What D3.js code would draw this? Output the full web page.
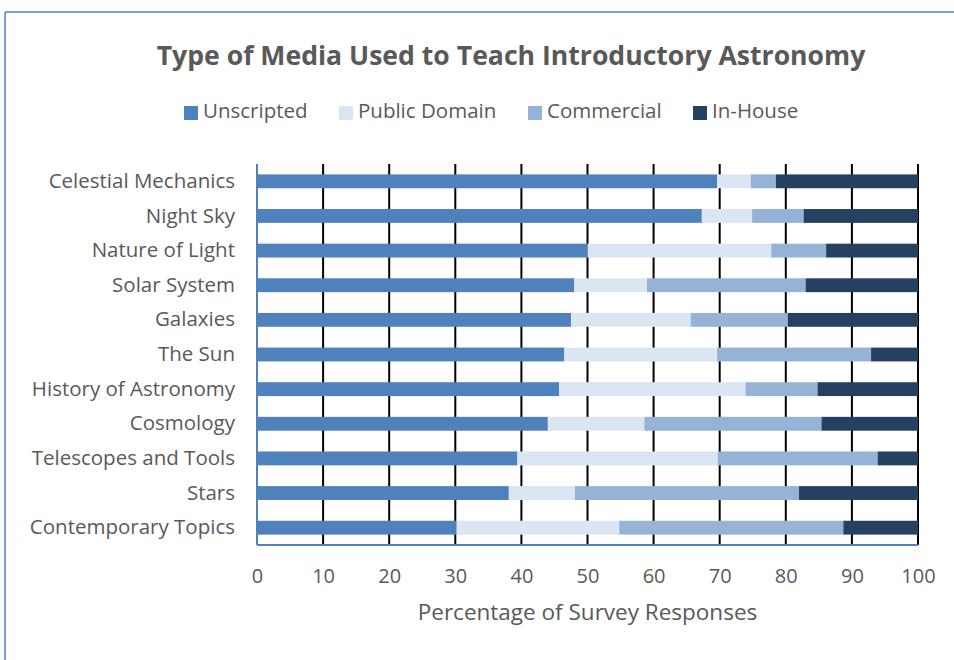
<!DOCTYPE html>
<html>
<head>
<meta charset="utf-8">
<script src="https://cdn.jsdelivr.net/npm/d3@7"></script>
<style>
  html, body { margin: 0; padding: 0; background: #fff; }
  svg { display: block; font-family: "Open Sans", "Noto Sans", sans-serif; }
</style>
</head>
<body>
<svg id="chart" width="954" height="660"></svg>
<script>
// topics, top to bottom
const topics = [
  "Celestial Mechanics", "Night Sky", "Nature of Light", "Solar System", "Galaxies",
  "The Sun", "History of Astronomy", "Cosmology", "Telescopes and Tools", "Stars",
  "Contemporary Topics"
];
const mediaTypes = ["Unscripted", "Public Domain", "Commercial", "In-House"];
const mediaColors = ["#4f81bd", "#dce6f2", "#95b3d7", "#254061"];

// percentages per topic
const unscripted   = [69.6, 67.3, 50.0, 48.0, 47.5, 46.5, 45.7, 44.0, 39.4, 38.1, 30.2];
const publicDomain = [5.1, 7.6, 27.8, 11.0, 18.1, 23.1, 28.2, 14.6, 30.3, 10.0, 24.6];
const commercial   = [3.8, 7.8, 8.3, 24.0, 14.7, 23.3, 10.9, 26.8, 24.2, 33.9, 33.9];
const inHouse      = [21.5, 17.3, 13.9, 17.0, 19.7, 7.1, 15.2, 14.6, 6.1, 18.0, 11.3];

const xTicks = [0, 10, 20, 30, 40, 50, 60, 70, 80, 90, 100];

const svg = d3.select("#chart");
const margin = { top: 164, left: 257, right: 36, bottom: 115 };
const width = 954, height = 660;
const textColor = "#595959";
const frameColor = "#4f81bd";

// outer frame (only top and left edges are visible)
svg.append("line")
  .attr("x1", 5).attr("x2", width).attr("y1", 12).attr("y2", 12)
  .attr("stroke", frameColor).attr("stroke-width", 1.5);
svg.append("line")
  .attr("x1", 5).attr("x2", 5).attr("y1", 12).attr("y2", height)
  .attr("stroke", frameColor).attr("stroke-width", 1.5);

const rows = topics.map((t, i) => ({
  topic: t,
  "Unscripted": unscripted[i],
  "Public Domain": publicDomain[i],
  "Commercial": commercial[i],
  "In-House": inHouse[i]
}));

const x = d3.scaleLinear().domain([0, 100]).range([margin.left, width - margin.right]);
const y = d3.scaleBand().domain(topics)
  .range([margin.top, height - margin.bottom])
  .paddingInner(0.6).paddingOuter(0.3);
const color = d3.scaleOrdinal().domain(mediaTypes).range(mediaColors);

const plotTop = margin.top, plotBottom = height - margin.bottom;

// gridlines
svg.append("g").selectAll("line")
  .data(xTicks.slice(1))
  .join("line")
  .attr("x1", d => x(d)).attr("x2", d => x(d))
  .attr("y1", plotTop).attr("y2", plotBottom)
  .attr("stroke", "#000").attr("stroke-width", 2);

// stacked bars
const stack = d3.stack().keys(mediaTypes);
const series = stack(rows);

svg.append("g").selectAll("g")
  .data(series)
  .join("g")
  .attr("fill", d => color(d.key))
  .selectAll("rect")
  .data(d => d)
  .join("rect")
  .attr("x", d => x(d[0]))
  .attr("width", d => x(d[1]) - x(d[0]))
  .attr("y", d => y(d.data.topic))
  .attr("height", y.bandwidth());

// axis lines
svg.append("line")
  .attr("x1", x(0)).attr("x2", x(0)).attr("y1", plotTop).attr("y2", plotBottom)
  .attr("stroke", frameColor).attr("stroke-width", 2);
svg.append("line")
  .attr("x1", x(0)).attr("x2", x(100)).attr("y1", plotBottom).attr("y2", plotBottom)
  .attr("stroke", frameColor).attr("stroke-width", 2);

// x tick labels
const xAxis = d3.axisBottom(x).tickValues(xTicks).tickSize(0).tickPadding(0);
const gx = svg.append("g")
  .attr("transform", `translate(0, ${plotBottom + 31})`)
  .call(xAxis);
gx.select(".domain").remove();
gx.selectAll("text")
  .attr("font-size", 20)
  .attr("font-family", "\"Open Sans\", sans-serif")
  .attr("fill", textColor)
  .attr("dy", "0.35em");

// category labels
const yAxis = d3.axisLeft(y).tickSize(0).tickPadding(0);
const gy = svg.append("g")
  .attr("transform", `translate(${margin.left - 22}, 0)`)
  .call(yAxis);
gy.select(".domain").remove();
gy.selectAll("text")
  .attr("font-size", 20.5)
  .attr("font-family", "\"Open Sans\", sans-serif")
  .attr("fill", textColor);

// axis title
svg.append("text")
  .attr("x", (x(0) + x(100)) / 2)
  .attr("y", 614)
  .attr("text-anchor", "middle")
  .attr("dominant-baseline", "middle")
  .attr("font-size", 22.5)
  .attr("fill", textColor)
  .text("Percentage of Survey Responses");

// title
svg.append("text")
  .attr("x", 511)
  .attr("y", 58)
  .attr("text-anchor", "middle")
  .attr("dominant-baseline", "middle")
  .attr("font-size", 26.6)
  .attr("font-weight", "bold")
  .attr("fill", textColor)
  .text("Type of Media Used to Teach Introductory Astronomy");

// legend
const legendX = [184, 339, 528, 693];
const legend = svg.append("g").selectAll("g")
  .data(mediaTypes)
  .join("g")
  .attr("transform", (d, i) => `translate(${legendX[i]}, 113)`);
legend.append("rect")
  .attr("x", 0).attr("y", -7)
  .attr("width", 14).attr("height", 14)
  .attr("fill", d => color(d));
legend.append("text")
  .attr("x", 19)
  .attr("y", 0)
  .attr("dominant-baseline", "middle")
  .attr("font-size", 20.5)
  .attr("fill", textColor)
  .text(d => d);
</script>
</body>
</html>
